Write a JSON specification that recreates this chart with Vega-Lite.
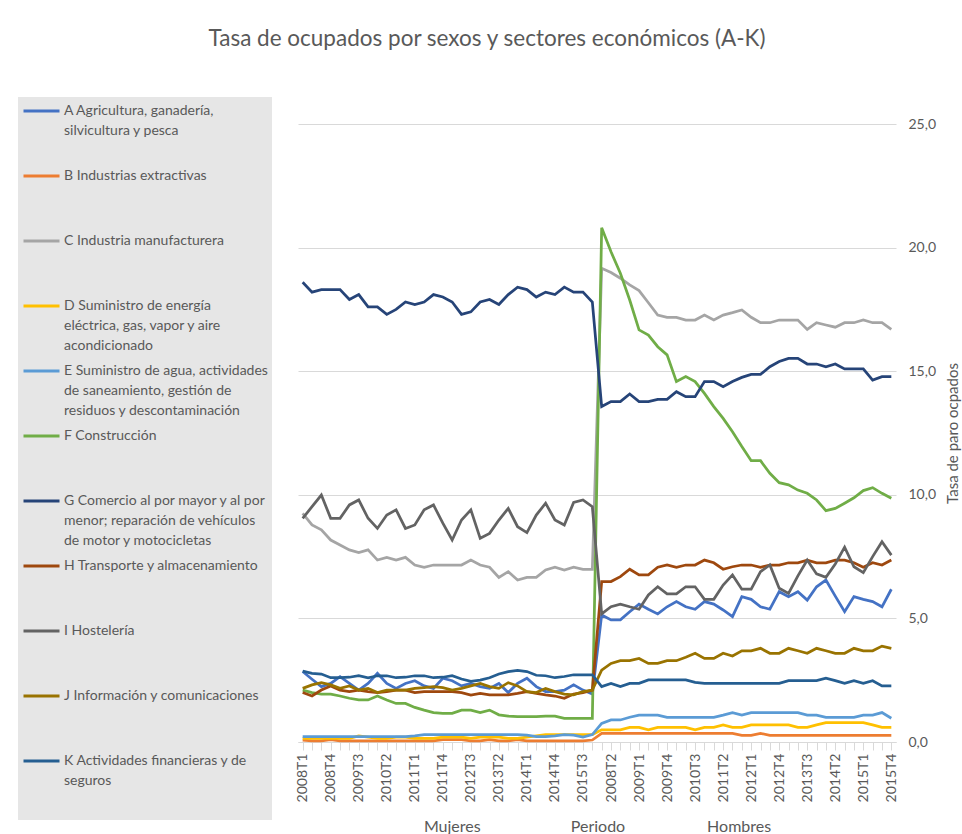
{
  "$schema": "https://vega.github.io/schema/vega-lite/v6.json",
  "width": 598,
  "height": 618,
  "autosize": {"type": "none"},
  "padding": {"left": 298, "top": 124, "right": 66, "bottom": 92},
  "background": "white",
  "title": {
    "text": "Tasa de ocupados por sexos y sectores económicos (A-K)",
    "font": "Lato", "fontSize": 22.5, "fontWeight": "normal", "color": "#595959",
    "anchor": "middle", "frame": "group", "dx": -110, "offset": 47
  },
  "config": {"view": {"stroke": null}},
  "data": {"values": [
    {"sexo":"Mujeres","periodo":"2008T1","A":2.85,"B":0.08,"C":9.25,"D":0.15,"E":0.22,"F":2.1,"G":18.6,"H":2.0,"I":9.05,"J":2.17,"K":2.87},
    {"sexo":"Mujeres","periodo":"2008T2","A":2.54,"B":0.05,"C":8.78,"D":0.15,"E":0.22,"F":2.0,"G":18.2,"H":1.86,"I":9.52,"J":2.31,"K":2.78},
    {"sexo":"Mujeres","periodo":"2008T3","A":2.24,"B":0.05,"C":8.58,"D":0.15,"E":0.22,"F":1.94,"G":18.3,"H":2.1,"I":9.99,"J":2.4,"K":2.75},
    {"sexo":"Mujeres","periodo":"2008T4","A":2.37,"B":0.1,"C":8.17,"D":0.15,"E":0.22,"F":1.94,"G":18.3,"H":2.27,"I":9.05,"J":2.31,"K":2.6},
    {"sexo":"Mujeres","periodo":"2009T1","A":2.64,"B":0.05,"C":7.97,"D":0.15,"E":0.22,"F":1.86,"G":18.3,"H":2.1,"I":9.05,"J":2.17,"K":2.6},
    {"sexo":"Mujeres","periodo":"2009T2","A":2.37,"B":0.05,"C":7.77,"D":0.15,"E":0.22,"F":1.77,"G":17.9,"H":2.04,"I":9.59,"J":2.27,"K":2.62},
    {"sexo":"Mujeres","periodo":"2009T3","A":2.1,"B":0.05,"C":7.66,"D":0.25,"E":0.22,"F":1.7,"G":18.1,"H":2.1,"I":9.79,"J":2.1,"K":2.68},
    {"sexo":"Mujeres","periodo":"2009T4","A":2.37,"B":0.05,"C":7.77,"D":0.2,"E":0.22,"F":1.7,"G":17.6,"H":2.04,"I":9.05,"J":2.17,"K":2.6},
    {"sexo":"Mujeres","periodo":"2010T1","A":2.78,"B":0.05,"C":7.36,"D":0.15,"E":0.22,"F":1.86,"G":17.6,"H":2.0,"I":8.64,"J":2.0,"K":2.68},
    {"sexo":"Mujeres","periodo":"2010T2","A":2.37,"B":0.05,"C":7.47,"D":0.15,"E":0.22,"F":1.7,"G":17.3,"H":2.04,"I":9.18,"J":2.1,"K":2.68},
    {"sexo":"Mujeres","periodo":"2010T3","A":2.17,"B":0.05,"C":7.36,"D":0.2,"E":0.22,"F":1.56,"G":17.5,"H":2.1,"I":9.39,"J":2.1,"K":2.6},
    {"sexo":"Mujeres","periodo":"2010T4","A":2.37,"B":0.05,"C":7.47,"D":0.2,"E":0.22,"F":1.56,"G":17.8,"H":2.1,"I":8.64,"J":2.1,"K":2.62},
    {"sexo":"Mujeres","periodo":"2011T1","A":2.48,"B":0.05,"C":7.16,"D":0.15,"E":0.25,"F":1.4,"G":17.7,"H":2.0,"I":8.78,"J":2.17,"K":2.68},
    {"sexo":"Mujeres","periodo":"2011T2","A":2.27,"B":0.05,"C":7.07,"D":0.15,"E":0.3,"F":1.29,"G":17.8,"H":2.04,"I":9.39,"J":2.2,"K":2.68},
    {"sexo":"Mujeres","periodo":"2011T3","A":2.17,"B":0.05,"C":7.16,"D":0.15,"E":0.3,"F":1.19,"G":18.1,"H":2.04,"I":9.59,"J":2.24,"K":2.6},
    {"sexo":"Mujeres","periodo":"2011T4","A":2.58,"B":0.1,"C":7.16,"D":0.2,"E":0.3,"F":1.16,"G":18.0,"H":2.04,"I":8.85,"J":2.2,"K":2.62},
    {"sexo":"Mujeres","periodo":"2012T1","A":2.48,"B":0.1,"C":7.16,"D":0.2,"E":0.3,"F":1.16,"G":17.8,"H":2.04,"I":8.17,"J":2.1,"K":2.68},
    {"sexo":"Mujeres","periodo":"2012T2","A":2.27,"B":0.1,"C":7.16,"D":0.2,"E":0.3,"F":1.29,"G":17.3,"H":2.0,"I":8.98,"J":2.17,"K":2.55},
    {"sexo":"Mujeres","periodo":"2012T3","A":2.37,"B":0.05,"C":7.36,"D":0.15,"E":0.3,"F":1.29,"G":17.4,"H":1.9,"I":9.39,"J":2.27,"K":2.45},
    {"sexo":"Mujeres","periodo":"2012T4","A":2.24,"B":0.05,"C":7.16,"D":0.2,"E":0.3,"F":1.19,"G":17.8,"H":1.97,"I":8.24,"J":2.37,"K":2.5},
    {"sexo":"Mujeres","periodo":"2013T1","A":2.17,"B":0.1,"C":7.07,"D":0.2,"E":0.3,"F":1.29,"G":17.9,"H":1.91,"I":8.44,"J":2.24,"K":2.6},
    {"sexo":"Mujeres","periodo":"2013T2","A":2.37,"B":0.05,"C":6.66,"D":0.2,"E":0.3,"F":1.1,"G":17.7,"H":1.91,"I":8.98,"J":2.17,"K":2.75},
    {"sexo":"Mujeres","periodo":"2013T3","A":2.0,"B":0.05,"C":6.89,"D":0.15,"E":0.3,"F":1.05,"G":18.1,"H":1.91,"I":9.45,"J":2.4,"K":2.85},
    {"sexo":"Mujeres","periodo":"2013T4","A":2.37,"B":0.1,"C":6.55,"D":0.15,"E":0.3,"F":1.03,"G":18.4,"H":1.97,"I":8.71,"J":2.27,"K":2.9},
    {"sexo":"Mujeres","periodo":"2014T1","A":2.58,"B":0.05,"C":6.66,"D":0.2,"E":0.28,"F":1.03,"G":18.3,"H":2.04,"I":8.47,"J":2.04,"K":2.85},
    {"sexo":"Mujeres","periodo":"2014T2","A":2.24,"B":0.05,"C":6.66,"D":0.25,"E":0.22,"F":1.03,"G":18.0,"H":1.97,"I":9.18,"J":2.0,"K":2.7},
    {"sexo":"Mujeres","periodo":"2014T3","A":2.04,"B":0.05,"C":6.96,"D":0.3,"E":0.22,"F":1.05,"G":18.2,"H":1.91,"I":9.66,"J":2.17,"K":2.68},
    {"sexo":"Mujeres","periodo":"2014T4","A":2.04,"B":0.05,"C":7.07,"D":0.3,"E":0.25,"F":1.05,"G":18.1,"H":1.86,"I":8.98,"J":2.04,"K":2.6},
    {"sexo":"Mujeres","periodo":"2015T1","A":2.1,"B":0.05,"C":6.96,"D":0.3,"E":0.3,"F":0.96,"G":18.4,"H":1.77,"I":8.78,"J":1.94,"K":2.65},
    {"sexo":"Mujeres","periodo":"2015T2","A":2.31,"B":0.05,"C":7.07,"D":0.3,"E":0.28,"F":0.96,"G":18.2,"H":1.94,"I":9.69,"J":1.91,"K":2.72},
    {"sexo":"Mujeres","periodo":"2015T3","A":2.1,"B":0.05,"C":6.98,"D":0.3,"E":0.2,"F":0.96,"G":18.2,"H":2.0,"I":9.79,"J":2.04,"K":2.72},
    {"sexo":"Mujeres","periodo":"2015T4","A":1.94,"B":0.08,"C":6.98,"D":0.3,"E":0.3,"F":0.96,"G":17.8,"H":2.1,"I":9.52,"J":2.1,"K":2.72},
    {"sexo":"Hombres","periodo":"2008T1","A":5.14,"B":0.35,"C":19.16,"D":0.49,"E":0.75,"F":20.8,"G":13.57,"H":6.49,"I":5.18,"J":2.91,"K":2.24},
    {"sexo":"Hombres","periodo":"2008T2","A":4.94,"B":0.35,"C":18.99,"D":0.49,"E":0.89,"F":19.83,"G":13.77,"H":6.49,"I":5.47,"J":3.18,"K":2.37},
    {"sexo":"Hombres","periodo":"2008T3","A":4.94,"B":0.35,"C":18.76,"D":0.49,"E":0.89,"F":18.96,"G":13.77,"H":6.69,"I":5.58,"J":3.29,"K":2.24},
    {"sexo":"Hombres","periodo":"2008T4","A":5.27,"B":0.35,"C":18.49,"D":0.59,"E":1.0,"F":17.88,"G":14.08,"H":6.99,"I":5.47,"J":3.29,"K":2.37},
    {"sexo":"Hombres","periodo":"2009T1","A":5.58,"B":0.35,"C":18.26,"D":0.59,"E":1.09,"F":16.67,"G":13.77,"H":6.76,"I":5.37,"J":3.38,"K":2.37},
    {"sexo":"Hombres","periodo":"2009T2","A":5.37,"B":0.35,"C":17.77,"D":0.49,"E":1.09,"F":16.46,"G":13.77,"H":6.76,"I":5.95,"J":3.18,"K":2.51},
    {"sexo":"Hombres","periodo":"2009T3","A":5.18,"B":0.35,"C":17.27,"D":0.59,"E":1.09,"F":15.99,"G":13.86,"H":7.07,"I":6.28,"J":3.18,"K":2.51},
    {"sexo":"Hombres","periodo":"2009T4","A":5.47,"B":0.35,"C":17.18,"D":0.59,"E":1.0,"F":15.66,"G":13.86,"H":7.16,"I":5.99,"J":3.29,"K":2.51},
    {"sexo":"Hombres","periodo":"2010T1","A":5.68,"B":0.35,"C":17.18,"D":0.59,"E":1.0,"F":14.58,"G":14.17,"H":7.07,"I":5.99,"J":3.29,"K":2.51},
    {"sexo":"Hombres","periodo":"2010T2","A":5.47,"B":0.35,"C":17.07,"D":0.59,"E":1.0,"F":14.78,"G":13.97,"H":7.16,"I":6.28,"J":3.43,"K":2.51},
    {"sexo":"Hombres","periodo":"2010T3","A":5.37,"B":0.35,"C":17.07,"D":0.49,"E":1.0,"F":14.58,"G":13.97,"H":7.16,"I":6.28,"J":3.59,"K":2.41},
    {"sexo":"Hombres","periodo":"2010T4","A":5.68,"B":0.35,"C":17.27,"D":0.59,"E":1.0,"F":14.1,"G":14.58,"H":7.36,"I":5.77,"J":3.38,"K":2.37},
    {"sexo":"Hombres","periodo":"2011T1","A":5.58,"B":0.35,"C":17.07,"D":0.59,"E":1.0,"F":13.57,"G":14.58,"H":7.25,"I":5.77,"J":3.38,"K":2.37},
    {"sexo":"Hombres","periodo":"2011T2","A":5.34,"B":0.35,"C":17.27,"D":0.69,"E":1.09,"F":13.09,"G":14.37,"H":6.99,"I":6.35,"J":3.59,"K":2.37},
    {"sexo":"Hombres","periodo":"2011T3","A":5.07,"B":0.35,"C":17.37,"D":0.59,"E":1.19,"F":12.55,"G":14.58,"H":7.09,"I":6.76,"J":3.48,"K":2.37},
    {"sexo":"Hombres","periodo":"2011T4","A":5.88,"B":0.27,"C":17.48,"D":0.59,"E":1.09,"F":11.95,"G":14.75,"H":7.16,"I":6.18,"J":3.69,"K":2.37},
    {"sexo":"Hombres","periodo":"2012T1","A":5.77,"B":0.27,"C":17.18,"D":0.69,"E":1.19,"F":11.38,"G":14.87,"H":7.16,"I":6.18,"J":3.69,"K":2.37},
    {"sexo":"Hombres","periodo":"2012T2","A":5.47,"B":0.35,"C":16.96,"D":0.69,"E":1.19,"F":11.38,"G":14.87,"H":7.07,"I":6.89,"J":3.79,"K":2.37},
    {"sexo":"Hombres","periodo":"2012T3","A":5.37,"B":0.27,"C":16.96,"D":0.69,"E":1.19,"F":10.87,"G":15.18,"H":7.16,"I":7.16,"J":3.59,"K":2.37},
    {"sexo":"Hombres","periodo":"2012T4","A":6.08,"B":0.27,"C":17.07,"D":0.69,"E":1.19,"F":10.49,"G":15.39,"H":7.16,"I":6.22,"J":3.59,"K":2.37},
    {"sexo":"Hombres","periodo":"2013T1","A":5.88,"B":0.27,"C":17.07,"D":0.69,"E":1.19,"F":10.4,"G":15.52,"H":7.25,"I":6.01,"J":3.79,"K":2.48},
    {"sexo":"Hombres","periodo":"2013T2","A":6.08,"B":0.27,"C":17.07,"D":0.59,"E":1.19,"F":10.19,"G":15.52,"H":7.25,"I":6.72,"J":3.69,"K":2.48},
    {"sexo":"Hombres","periodo":"2013T3","A":5.74,"B":0.27,"C":16.69,"D":0.59,"E":1.09,"F":10.06,"G":15.29,"H":7.36,"I":7.36,"J":3.59,"K":2.48},
    {"sexo":"Hombres","periodo":"2013T4","A":6.28,"B":0.27,"C":16.96,"D":0.69,"E":1.09,"F":9.79,"G":15.29,"H":7.25,"I":6.8,"J":3.79,"K":2.48},
    {"sexo":"Hombres","periodo":"2014T1","A":6.55,"B":0.27,"C":16.87,"D":0.78,"E":1.0,"F":9.36,"G":15.18,"H":7.25,"I":6.66,"J":3.69,"K":2.58},
    {"sexo":"Hombres","periodo":"2014T2","A":5.9,"B":0.27,"C":16.78,"D":0.78,"E":1.0,"F":9.45,"G":15.29,"H":7.36,"I":7.2,"J":3.59,"K":2.48},
    {"sexo":"Hombres","periodo":"2014T3","A":5.27,"B":0.27,"C":16.96,"D":0.78,"E":1.0,"F":9.66,"G":15.09,"H":7.36,"I":7.88,"J":3.59,"K":2.37},
    {"sexo":"Hombres","periodo":"2014T4","A":5.88,"B":0.27,"C":16.96,"D":0.78,"E":1.0,"F":9.88,"G":15.09,"H":7.25,"I":7.09,"J":3.79,"K":2.48},
    {"sexo":"Hombres","periodo":"2015T1","A":5.77,"B":0.27,"C":17.07,"D":0.78,"E":1.09,"F":10.17,"G":15.09,"H":7.07,"I":6.85,"J":3.69,"K":2.37},
    {"sexo":"Hombres","periodo":"2015T2","A":5.68,"B":0.27,"C":16.96,"D":0.69,"E":1.09,"F":10.29,"G":14.64,"H":7.25,"I":7.5,"J":3.69,"K":2.48},
    {"sexo":"Hombres","periodo":"2015T3","A":5.47,"B":0.27,"C":16.96,"D":0.59,"E":1.19,"F":10.06,"G":14.78,"H":7.16,"I":8.1,"J":3.88,"K":2.27},
    {"sexo":"Hombres","periodo":"2015T4","A":6.18,"B":0.27,"C":16.69,"D":0.59,"E":0.96,"F":9.86,"G":14.78,"H":7.36,"I":7.56,"J":3.79,"K":2.27}
  ]},
  "transform": [
    {"fold": ["A","B","C","D","E","F","G","H","I","J","K"], "as": ["sector","tasa"]},
    {"calculate": "datum.sexo + ' ' + datum.periodo", "as": "clave"}
  ],
  "mark": {"type": "line", "strokeWidth": 2.75},
  "encoding": {
    "x": {
      "field": "clave", "type": "ordinal", "sort": null,
      "axis": {
        "title": "Mujeres\u00a0\u00a0\u00a0\u00a0\u00a0\u00a0\u00a0\u00a0\u00a0\u00a0\u00a0\u00a0\u00a0\u00a0\u00a0\u00a0\u00a0\u00a0\u00a0\u00a0\u00a0\u00a0Periodo\u00a0\u00a0\u00a0\u00a0\u00a0\u00a0\u00a0\u00a0\u00a0\u00a0\u00a0\u00a0\u00a0\u00a0\u00a0\u00a0\u00a0\u00a0\u00a0\u00a0Hombres",
        "orient": "bottom",
        "domainColor": "#d9d9d9", "tickColor": "#d9d9d9", "tickSize": 8,
        "labelAngle": 270, "labelAlign": "right", "labelBaseline": "middle", "labelPadding": 3,
        "labelFont": "Lato", "labelFontSize": 14, "labelColor": "#595959",
        "labelOverlap": false,
        "labelExpr": "round(datum.index * 63) % 3 == 0 ? slice(datum.value, -6) : ''",
        "titleFont": "Lato", "titleFontSize": 16, "titleColor": "#595959", "titleFontWeight": "normal",
        "titlePadding": 17
      }
    },
    "y": {
      "field": "tasa", "type": "quantitative",
      "scale": {"domain": [0, 25], "nice": false},
      "axis": {
        "orient": "right", "title": "Tasa de paro ocpados",
        "values": [0, 5, 10, 15, 20, 25],
        "labelExpr": "replace(format(datum.value, '.1f'), '.', ',')",
        "grid": true, "gridColor": "#d9d9d9", "domain": false, "ticks": false,
        "labelPadding": 12, "labelFont": "Lato", "labelFontSize": 14, "labelColor": "#595959",
        "titleFont": "Lato", "titleFontSize": 15, "titleColor": "#595959", "titleFontWeight": "normal",
        "titleAngle": 270, "titleBaseline": "top", "titlePadding": 10
      }
    },
    "color": {
      "field": "sector", "type": "nominal",
      "scale": {
        "domain": ["A","B","C","D","E","F","G","H","I","J","K"],
        "range": ["#4472C4","#ED7D31","#A5A5A5","#FFC000","#5B9BD5","#70AD47","#264478","#9E480E","#636363","#997300","#255E91"]
      },
      "legend": {
        "orient": "none", "legendX": -280, "legendY": -27,
        "title": null, "fillColor": "#e6e6e6", "padding": 4,
        "symbolType": "stroke", "symbolSize": 1296, "symbolStrokeWidth": 3,
        "labelFont": "Lato", "labelFontSize": 14, "labelColor": "#595959",
        "labelOffset": 3, "labelLimit": 300, "rowPadding": 0, "clipHeight": 65,
        "labelExpr": "datum.value == 'A' ? 'A Agricultura, ganadería,|silvicultura y pesca' : datum.value == 'B' ? 'B Industrias extractivas' : datum.value == 'C' ? 'C Industria manufacturera' : datum.value == 'D' ? 'D Suministro de energía|eléctrica, gas, vapor y aire|acondicionado' : datum.value == 'E' ? 'E Suministro de agua, actividades|de saneamiento, gestión de|residuos y descontaminación' : datum.value == 'F' ? 'F Construcción' : datum.value == 'G' ? 'G Comercio al por mayor y al por|menor; reparación de vehículos|de motor y motocicletas' : datum.value == 'H' ? 'H Transporte y almacenamiento' : datum.value == 'I' ? 'I Hostelería' : datum.value == 'J' ? 'J Información y comunicaciones' : 'K Actividades financieras y de|seguros'",
        "encode": {
          "symbols": {"update": {"y": {"value": 10}}},
          "labels": {"update": {"y": {"value": 0}, "baseline": {"value": "line-top"}, "lineHeight": {"value": 20}, "lineBreak": {"value": "|"}}}
        }
      }
    }
  }
}
